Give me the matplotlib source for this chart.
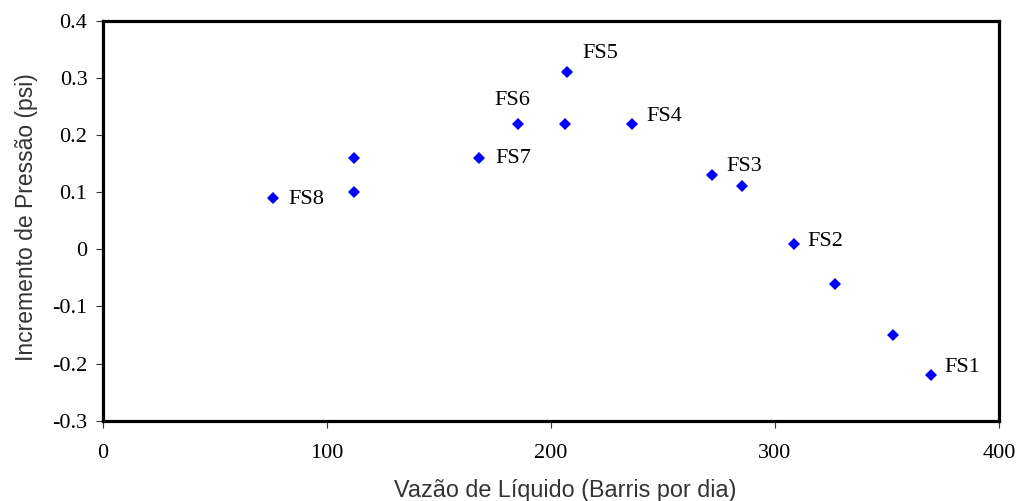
import matplotlib
matplotlib.use("Agg")
import matplotlib.pyplot as plt

# Liquid flow rate (barrels per day) and pressure increment (psi)
vazao = [76, 112, 112, 168, 185.5, 206.5, 207.3, 236.4, 272, 285.5, 308.3, 326.8, 352.7, 369.6]
incremento = [0.09, 0.16, 0.10, 0.16, 0.22, 0.22, 0.31, 0.22, 0.13, 0.11, 0.01, -0.06, -0.15, -0.22]

# Point labels: index into the series and text offset in pixels
rotulos = ["FS8", "FS7", "FS6", "FS5", "FS4", "FS3", "FS2", "FS1"]
rotulo_idx = [0, 3, 4, 6, 7, 8, 10, 13]
rotulo_offset = [(15, -2), (16, -1), (-24, 23), (15, 19), (14, 7), (14, 8), (14, 2), (13, 7)]

xticks = [0, 100, 200, 300, 400]
yticks = [-0.3, -0.2, -0.1, 0, 0.1, 0.2, 0.3, 0.4]
ytick_labels = ["-0.3", "-0.2", "-0.1", "0", "0.1", "0.2", "0.3", "0.4"]

fig = plt.figure(figsize=(10.17, 5.01), dpi=100)
ax = fig.add_axes([0.101, 0.1603, 0.8813, 0.7984])

ax.plot(vazao, incremento, linestyle="none", marker="D", markersize=6.3,
        color="#0000FF", markeredgewidth=0)

for txt, i, off in zip(rotulos, rotulo_idx, rotulo_offset):
    ax.annotate(txt, (vazao[i], incremento[i]), xytext=off,
                textcoords="offset pixels", ha="left", va="center",
                fontsize=16, family="Liberation Serif", color="black")

ax.set_xlim(0, 400)
ax.set_ylim(-0.3, 0.4)
ax.set_xticks(xticks)
ax.set_yticks(yticks)
ax.set_yticklabels(ytick_labels)

for s in ax.spines.values():
    s.set_linewidth(2.3)
    s.set_color("black")

ax.tick_params(direction="out", length=5, width=0.8, color="#333333",
               labelsize=16, labelcolor="black")
ax.tick_params(axis="x", pad=12)
ax.tick_params(axis="y", pad=6)
for lab in ax.get_xticklabels() + ax.get_yticklabels():
    lab.set_family("Liberation Serif")

fig.text(565 / 1017, 1 - 491 / 501, "Vazão de Líquido (Barris por dia)",
         ha="center", va="center", fontsize=16.8, family="Liberation Sans",
         color="#333333")
fig.text(26.5 / 1017, 1 - 217 / 501, "Incremento de Pressão (psi)",
         ha="center", va="center", rotation=90, fontsize=16.5,
         family="Liberation Sans", color="#333333")

fig.savefig("out.png", dpi=100, facecolor="white")
